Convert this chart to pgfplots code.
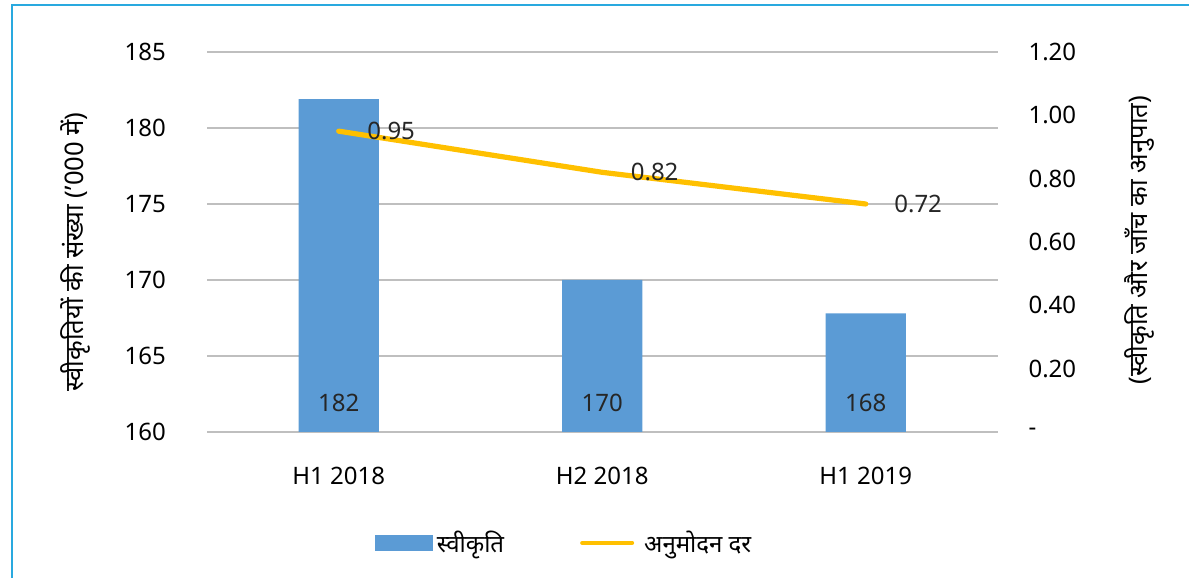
\documentclass[border=0pt]{standalone}
\usepackage{pgfplots}
\pgfplotsset{compat=1.18}
\usepackage{fontspec}
\setmainfont{Noto Sans}
\newfontfamily\deva[Script=Devanagari]{Noto Sans}
\definecolor{barblue}{HTML}{5B9BD5}
\definecolor{lineyel}{HTML}{FFC000}
\definecolor{framecol}{HTML}{29A9DF}
\definecolor{gridgray}{HTML}{BFBFBF}

\begin{document}
\begin{tikzpicture}
\useasboundingbox (0,0) rectangle (594.5pt,289pt);
\draw[framecol, line width=1.2pt] (6pt,0) -- (6pt,286.5pt) -- (594.5pt,286.5pt);

\pgfplotsset{
  every axis/.append style={
    scale only axis, width=395.25pt, height=190pt,
    at={(103.5pt,73pt)}, anchor=south west,
    xmin=-0.5, xmax=2.5,
    font=\fontsize{12}{14}\selectfont,
    axis line style={draw=none}, major tick length=0pt,
    /pgf/number format/assume math mode=true,
  },
}

% left axis: bars
\begin{axis}[
  ymin=160, ymax=185, ytick={160,165,...,185},
  ymajorgrids, grid style={gridgray, line width=0.8pt},
  xtick={0,1,2}, xticklabels={H1 2018,H2 2018,H1 2019},
  xticklabel style={yshift=-14pt},
  yticklabel style={xshift=-17pt},
  every axis y label/.style={at={(axis description cs:-0.167,0.474)}, rotate=90, anchor=center,
    font=\deva\fontsize{12.8}{15}\selectfont},
  ylabel={स्वीकृतियों की संख्या (’000 में)},
  legend style={at={(axis description cs:0.453,-0.292)}, anchor=center, draw=none,
    legend columns=2, column sep=0pt, font=\deva\fontsize{12}{14}\selectfont,
    /tikz/every even column/.append style={column sep=36pt}},
]
\addplot[ybar, bar width=0.304, bar shift=0pt, fill=barblue, draw=none,
  legend image code/.code={\fill[barblue] (0pt,-4pt) rectangle (29pt,4pt);}]
  coordinates {(0,181.9) (1,170.0) (2,167.8)};
\addlegendentry{स्वीकृति}
\addlegendimage{lineyel, line width=2pt, legend image code/.code={\draw[lineyel, line width=2pt, line cap=round] (0pt,0pt) -- (25pt,0pt); \path (28pt,0pt);}}
\addlegendentry{अनुमोदन दर}
% value labels near the bar bottoms
\addplot[draw=none, nodes near coords, point meta=explicit symbolic,
  every node near coord/.style={anchor=center, text=black!85}]
  coordinates {(0,161.9) [182] (1,161.9) [170] (2,161.9) [168]};
\end{axis}

% right axis: rate line
\begin{axis}[
  ymin=0, ymax=1.2, ytick={0,0.2,...,1.2},
  yticklabels={-,0.20,0.40,0.60,0.80,1.00,1.20},
  axis y line*=right, axis x line=none,
  yticklabel style={anchor=west, xshift=12pt},
  every axis y label/.style={at={(axis description cs:1.180,0.505)}, rotate=90, anchor=center,
    font=\deva\fontsize{12.8}{15}\selectfont},
  ylabel={(स्वीकृति और जाँच का अनुपात)},
  clip=false,
]
\addplot[lineyel, line width=2.6pt, line cap=round, mark=none,
  nodes near coords, point meta=explicit symbolic,
  every node near coord/.style={anchor=west, xshift=13pt, yshift=0pt, inner sep=0pt, text=black!85}]
  coordinates {(0,0.95) [0.95] (1,0.82) [0.82] (2,0.72) [0.72]};
\end{axis}
\end{tikzpicture}
\end{document}
